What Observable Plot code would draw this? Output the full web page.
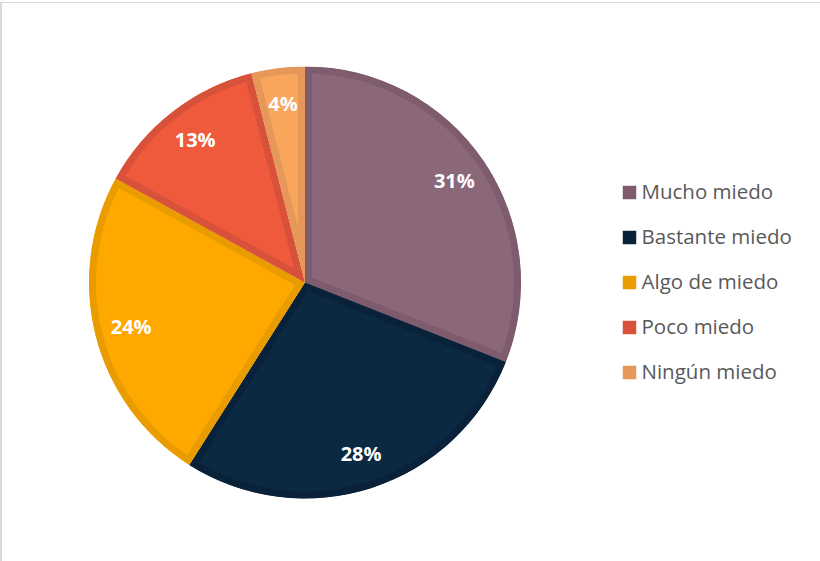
<!DOCTYPE html>
<html>
<head>
<meta charset="utf-8">
<script src="https://cdn.jsdelivr.net/npm/d3@7"></script>
<script src="https://cdn.jsdelivr.net/npm/@observablehq/plot@0.6"></script>
<style>
  body { margin: 0; background: #fff; }
  #frame { position: absolute; left: 0; top: 2px; width: 840px; height: 580px; border-top: 1px solid #d9d9d9; border-left: 2px solid #d9d9d9; box-sizing: border-box; }
  #chart { position: absolute; left: 0; top: 0; }
</style>
</head>
<body>
<div id="frame"></div>
<div id="chart"></div>
<script>
const categories = ["Mucho miedo", "Bastante miedo", "Algo de miedo", "Poco miedo", "Ningún miedo"];
const values = [31, 28, 24, 13, 4];
const labels = ["31%", "28%", "24%", "13%", "4%"];
const fillColors = ["#8B6879", "#0C2944", "#FFA800", "#EE5A3B", "#F8A65B"];
const edgeColors = ["#7E5B6D", "#0A2239", "#E89C00", "#D8513A", "#E6985A"];

const rows = categories.map((c, i) => ({category: c, value: values[i], label: labels[i], fill: fillColors[i], edge: edgeColors[i]}));

// layout
const cx = 305, cy = 282.5, R = 216, labelR = 180, band = 7;
const legendX = 629, legendTextX = 641, legendTop = 192, legendStep = 45;

const arcs = d3.pie().sort(null).value(d => d.value)(rows);
const arcGen = d3.arc().innerRadius(0).outerRadius(R);
const labelArc = d3.arc().innerRadius(labelR).outerRadius(labelR);
const labelPts = arcs.map(a => {
  const [x, y] = labelArc.centroid(a);
  return {label: a.data.label, x: cx + x, y: cy + y};
});

function slices(index, scales) {
  const g = d3.create("svg:g")
    .attr("transform", `translate(${scales.x(cx)},${scales.y(cy)})`);
  const defs = g.append("defs");
  arcs.forEach((a, i) => {
    defs.append("clipPath").attr("id", "slice-clip-" + i)
      .append("path").attr("d", arcGen(a));
  });
  arcs.forEach((a, i) => {
    g.append("path")
      .attr("d", arcGen(a))
      .attr("fill", a.data.fill)
      .attr("stroke", a.data.edge)
      .attr("stroke-width", band * 2)
      .attr("stroke-linejoin", "miter")
      .attr("clip-path", `url(#slice-clip-${i})`);
  });
  return g.node();
}

const chart = Plot.plot({
  width: 820,
  height: 561,
  margin: 0,
  style: {background: "transparent"},
  x: {domain: [0, 820], range: [0, 820], axis: null},
  y: {domain: [0, 561], range: [0, 561], axis: null},
  color: {domain: categories, range: edgeColors},
  marks: [
    slices,
    Plot.text(labelPts, {x: "x", y: "y", text: "label", fill: "white", fontWeight: "bold", fontSize: 20, fontFamily: "Open Sans"}),
    Plot.dot(categories, {x: () => legendX, y: (d, i) => legendTop + i * legendStep, symbol: "square", r: 7.6, fill: d => d, stroke: null}),
    Plot.text(categories, {x: () => legendTextX, y: (d, i) => legendTop + i * legendStep, text: d => d, textAnchor: "start", fill: "#595959", fontSize: 20.5, fontFamily: "Open Sans"})
  ]
});
document.getElementById("chart").appendChild(chart);
</script>
</body>
</html>
